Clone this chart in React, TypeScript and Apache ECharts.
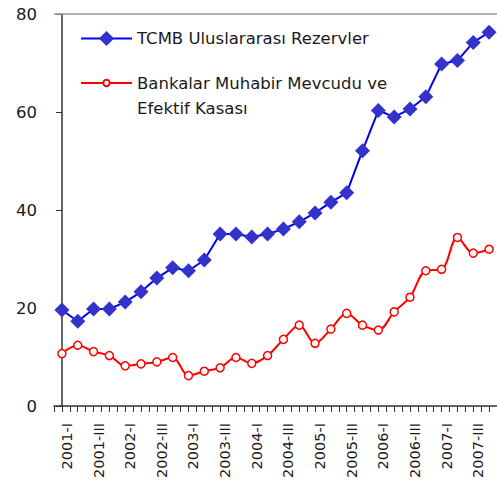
import React, { useEffect, useRef } from "react";
import * as echarts from "echarts";

const quarters = [
  "2001-I", "2001-II", "2001-III", "2001-IV",
  "2002-I", "2002-II", "2002-III", "2002-IV",
  "2003-I", "2003-II", "2003-III", "2003-IV",
  "2004-I", "2004-II", "2004-III", "2004-IV",
  "2005-I", "2005-II", "2005-III", "2005-IV",
  "2006-I", "2006-II", "2006-III", "2006-IV",
  "2007-I", "2007-II", "2007-III", "2007-IV",
];

const reserves = [
  19.6, 17.3, 19.8, 19.8, 21.2, 23.3, 26.1, 28.2,
  27.6, 29.8, 35.1, 35.1, 34.5, 35.1, 36.1, 37.6,
  39.4, 41.6, 43.5, 52.1, 60.3, 59.0, 60.6, 63.1,
  69.8, 70.5, 74.2, 76.3,
];

const banks = [
  10.7, 12.4, 11.1, 10.3, 8.2, 8.6, 9.0, 9.9,
  6.2, 7.1, 7.8, 9.9, 8.7, 10.3, 13.6, 16.5,
  12.8, 15.7, 18.9, 16.5, 15.5, 19.2, 22.2, 27.6,
  27.9, 34.4, 31.2, 32.0,
];

const yTicks = { min: 0, max: 80, interval: 20 };

const seriesNames = [
  "TCMB Uluslararası Rezervler",
  "Bankalar Muhabir Mevcudu ve Efektif Kasası",
];

const FONT = "DejaVu Sans";

const legendText = {
  fontFamily: FONT,
  fontSize: 16.5,
  color: "#1a1a1a",
  lineHeight: 25,
};

export default function App() {
  const ref = useRef<HTMLDivElement>(null);
  useEffect(() => {
    if (!ref.current) return;
    const chart = echarts.init(ref.current, undefined, { renderer: "svg" });
    chart.setOption({
      animation: false,
      backgroundColor: "#ffffff",
      textStyle: { fontFamily: FONT },
      grid: { left: 54, top: 14, width: 448, height: 392 },
      legend: [
        {
          orient: "vertical",
          left: 75,
          top: 21,
          itemWidth: 51,
          itemHeight: 19,
          itemGap: 0,
          data: [seriesNames[0]],
          textStyle: legendText,
        },
        {
          orient: "vertical",
          left: 75,
          top: 40.5,
          itemWidth: 51,
          itemHeight: 8,
          itemGap: 0,
          data: [seriesNames[1]],
          formatter: (n: string) => " \n" + n.replace(" ve ", " ve\n"),
          textStyle: legendText,
        },
      ],
      xAxis: {
        type: "value",
        min: -0.5,
        max: 27.5,
        interval: 0.5,
        axisLine: { show: true, lineStyle: { color: "#333", width: 1.5 } },
        axisTick: { show: true, length: 6, lineStyle: { color: "#333", width: 1 } },
        splitLine: { show: false },
        axisLabel: {
          rotate: 90,
          margin: 17,
          fontFamily: FONT,
          fontSize: 14.5,
          lineHeight: 10,
          color: "#1a1a1a",
          verticalAlign: "top",
          showMinLabel: true,
          showMaxLabel: true,
          formatter: (v: number) =>
            Number.isInteger(v) && v % 2 === 0 && quarters[v] ? quarters[v] : "",
        },
      },
      yAxis: {
        type: "value",
        min: yTicks.min,
        max: yTicks.max,
        interval: yTicks.interval,
        axisLine: { show: true, lineStyle: { color: "#333", width: 1.5 } },
        axisTick: { show: true, length: 6, lineStyle: { color: "#333", width: 1 } },
        splitLine: { show: false },
        axisLabel: {
          margin: 17,
          fontFamily: FONT,
          fontSize: 16.5,
          color: "#1a1a1a",
        },
      },
      series: [
        {
          name: seriesNames[0],
          type: "line",
          data: reserves.map((v, i) => [i, v]),
          symbol: "diamond",
          symbolSize: 15,
          itemStyle: { color: "#3333cc", borderWidth: 0 },
          lineStyle: { color: "#0000ff", width: 2 },
          markLine: {
            silent: true,
            symbol: "none",
            label: { show: false },
            lineStyle: { color: "#999", type: "solid", width: 1.5 },
            data: [{ yAxis: yTicks.max }],
          },
        },
        {
          name: seriesNames[1],
          type: "line",
          data: banks.map((v, i) => [i, v]),
          smooth: 0.35,
          symbol: "circle",
          symbolSize: 8,
          itemStyle: { color: "#ffffff", borderColor: "#ff0000", borderWidth: 1.5 },
          lineStyle: { color: "#ff0000", width: 2 },
        },
      ],
    });
    return () => chart.dispose();
  }, []);
  return (
    <div
      ref={ref}
      style={{ position: "fixed", left: 0, top: 0, width: 497, height: 494 }}
    />
  );
}
